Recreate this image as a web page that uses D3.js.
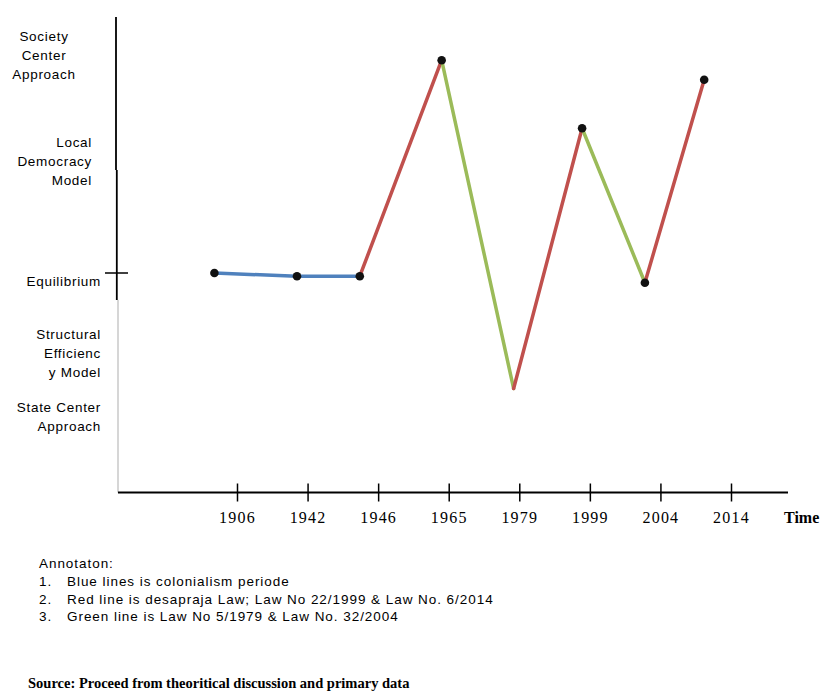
<!DOCTYPE html>
<html>
<head>
<meta charset="utf-8">
<script src="https://cdn.jsdelivr.net/npm/d3@7"></script>
<style>
  body { margin: 0; background: #fff; }
  svg { display: block; }
  .sans { font-family: "Liberation Sans", Arial, sans-serif; font-size: 13.5px; letter-spacing: 0.7px; fill: #000; }
  .note { letter-spacing: 0.95px; }
  .serif { font-family: "Liberation Serif", "Times New Roman", serif; fill: #000; }
</style>
</head>
<body>
<script>
// tick labels on the time axis
var timeLabels = ["1906", "1942", "1946", "1965", "1979", "1999", "2004", "2014"];

// where each point sits along the time axis (in tick units)
var pointPos = [-0.32, 0.85, 1.74, 2.90, 3.92, 4.89, 5.78, 6.62];
// level of each point (0 = Equilibrium)
var pointLevel = [0.0, -0.03, -0.03, 1.97, -1.07, 1.34, -0.09, 1.79];
// black marker drawn on each point?
var pointDot = [true, true, true, true, false, true, true, true];

// segment colour group between consecutive points
var segGroup = ["blue", "blue", "red", "green", "red", "green", "red"];
var groupColor = { blue: "#4f81bd", red: "#c0504d", green: "#9bbb59" };

// labels down the vertical axis
var levelNames = [["Society", "Center", "Approach"], ["Local", "Democracy", "Model"], ["Equilibrium"],
                  ["Structural", "Efficienc", "y Model"], ["State Center", "Approach"]];
var levelValues = [2.02, 1.04, -0.07, -0.74, -1.33];

var annotation = ["Blue lines is colonialism periode",
                  "Red line is desapraja Law; Law No 22/1999 & Law No. 6/2014",
                  "Green line is Law No 5/1979 & Law No. 32/2004"];
var source = "Source: Proceed from theoritical discussion and primary data";

var width = 822, height = 695;
var axisY = 492.5;

var svg = d3.select("body").append("svg")
    .attr("width", width)
    .attr("height", height);

var x = d3.scalePoint().domain(timeLabels).range([237, 731]);
var xPos = d3.scaleLinear().domain([0, timeLabels.length - 1]).range([237, 731]);
var y = d3.scaleLinear().domain([-2, 2]).range([489, 57]);

// vertical axis: black upper part, pale lower part
svg.append("line").attr("x1", 116).attr("x2", 116).attr("y1", 17).attr("y2", 170)
  .style("stroke", "#000").style("stroke-width", 1.8);
svg.append("line").attr("x1", 116.8).attr("x2", 116.8).attr("y1", 170).attr("y2", 300)
  .style("stroke", "#000").style("stroke-width", 1.8);
svg.append("line").attr("x1", 118).attr("x2", 118).attr("y1", 300).attr("y2", axisY)
  .style("stroke", "#c8c8c8").style("stroke-width", 1.5);
// equilibrium tick
svg.append("line").attr("x1", 105).attr("x2", 128).attr("y1", y(0)).attr("y2", y(0))
  .style("stroke", "#000").style("stroke-width", 1.5);

// time axis
var xAxis = d3.axisBottom(x).tickSize(0).tickPadding(0);
var gx = svg.append("g").attr("transform", "translate(0," + axisY + ")").call(xAxis);
gx.select(".domain").attr("d", "M118,0H788").style("stroke", "#000").style("stroke-width", 2);
gx.selectAll(".tick line").attr("y1", -9).attr("y2", 9).style("stroke", "#000").style("stroke-width", 1.5);
gx.selectAll(".tick text").attr("y", 30).attr("dy", null)
  .attr("class", "serif").style("font-size", "16px").style("letter-spacing", "1.2px")
  .attr("font-family", null).attr("font-size", null).attr("fill", null);
svg.append("text").attr("class", "serif").attr("x", 784).attr("y", axisY + 30)
  .style("font-size", "16px").style("font-weight", "bold").text("Time");

// level labels
levelNames.forEach(function (lines, i) {
  var n = lines.length;
  var anchor = i === 0 ? "middle" : "end";
  var lx = i === 0 ? 44 : (i === 1 ? 92 : 101);
  var t = svg.append("text").attr("class", "sans").attr("text-anchor", anchor)
    .attr("y", y(levelValues[i]) - (n - 1) * 9.5 + 5);
  lines.forEach(function (s, j) {
    t.append("tspan").attr("x", lx).attr("dy", j === 0 ? 0 : 19).text(s);
  });
});

// segments
var pts = pointPos.map(function (p, i) { return { px: xPos(p), py: y(pointLevel[i]), dot: pointDot[i] }; });
var segs = segGroup.map(function (g, i) { return { a: pts[i], b: pts[i + 1], g: g }; });

svg.selectAll("line.seg").data(segs).enter().append("line")
  .attr("class", "seg")
  .attr("x1", function (d) { return d.a.px; })
  .attr("y1", function (d) { return d.a.py; })
  .attr("x2", function (d) { return d.b.px; })
  .attr("y2", function (d) { return d.b.py; })
  .style("stroke", function (d) { return groupColor[d.g]; })
  .style("stroke-width", 3.5)
  .style("stroke-linecap", "round");

svg.selectAll("circle.dot").data(pts.filter(function (d) { return d.dot; })).enter().append("circle")
  .attr("class", "dot")
  .attr("cx", function (d) { return d.px; })
  .attr("cy", function (d) { return d.py; })
  .attr("r", 4.3)
  .style("fill", "#111");

// annotation
svg.append("text").attr("class", "sans note").attr("x", 39).attr("y", 568).text("Annotaton:");
annotation.forEach(function (s, i) {
  var yy = 586 + i * 17.5;
  svg.append("text").attr("class", "sans note").attr("x", 39).attr("y", yy).text((i + 1) + ".");
  svg.append("text").attr("class", "sans note").attr("x", 67).attr("y", yy).text(s);
});

svg.append("text").attr("class", "serif").attr("x", 28).attr("y", 688)
  .style("font-size", "14.5px").style("font-weight", "bold").text(source);
</script>
</body>
</html>
